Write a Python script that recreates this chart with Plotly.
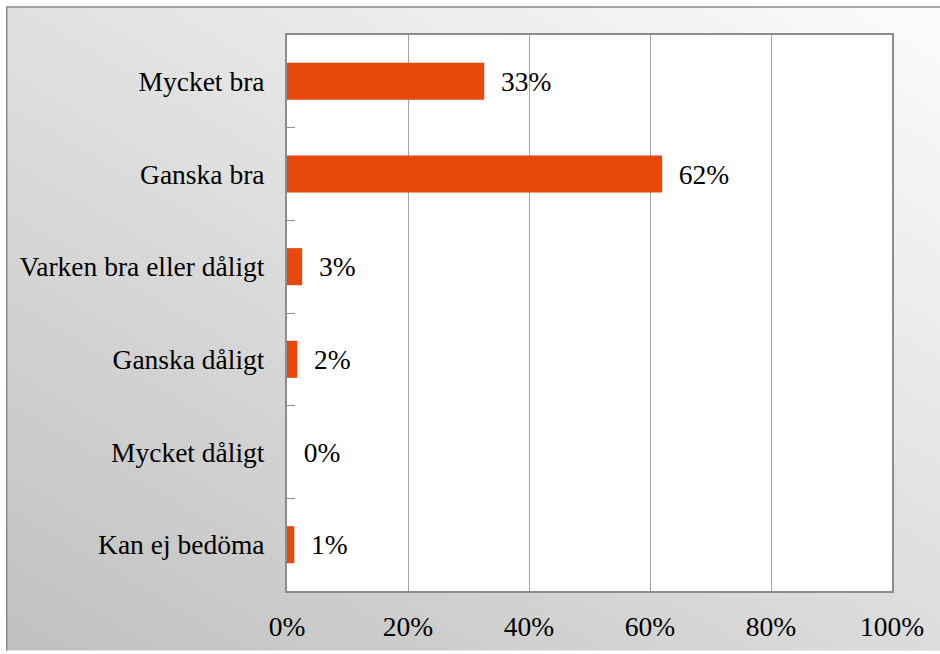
import base64
import plotly.graph_objects as go

# Data
categories = ["Mycket bra", "Ganska bra", "Varken bra eller dåligt",
              "Ganska dåligt", "Mycket dåligt", "Kan ej bedöma"]
values = [32.6, 62.0, 2.5, 1.7, 0.0, 1.2]
value_labels = ["33%", "62%", "3%", "2%", "0%", "1%"]
x_ticks = [0, 20, 40, 60, 80, 100]
x_tick_labels = ["0%", "20%", "40%", "60%", "80%", "100%"]

W, H = 940, 654
ML, MR, MT, MB = 287, 48, 35, 60
PW, PH = W - ML - MR, H - MT - MB

FONT = "Liberation Serif, Times New Roman, serif"
FS = 27.5

# gradient background (light top-right -> darker bottom-left) as an svg image
svg = (
    '<svg xmlns="http://www.w3.org/2000/svg" width="940" height="654" '
    'viewBox="0 0 940 654" preserveAspectRatio="none">'
    '<defs><linearGradient id="g" gradientUnits="userSpaceOnUse" '
    'x1="940" y1="6" x2="413" y2="897">'
    '<stop offset="0" stop-color="#fcfcfc"/>'
    '<stop offset="1" stop-color="#c0c0c0"/>'
    '</linearGradient></defs>'
    '<rect x="0" y="0" width="940" height="654" fill="#ffffff"/>'
    '<rect x="6" y="6" width="934" height="648" fill="url(#g)"/>'
    '<path d="M6.75 654 V6.75 H940" fill="none" stroke="#8a8a8a" stroke-width="1.5"/>'
    '</svg>'
)
bg_src = "data:image/svg+xml;base64," + base64.b64encode(svg.encode()).decode()

fig = go.Figure()

fig.add_trace(go.Bar(
    x=values,
    y=categories,
    orientation="h",
    marker=dict(color="#E8480C", line=dict(width=0)),
    text=value_labels,
    texttemplate="\u00a0\u00a0%{text}",
    textposition="outside",
    cliponaxis=False,
    textfont=dict(family=FONT, size=FS, color="#000000"),
    hoverinfo="skip",
))

fig.update_layout(
    width=W,
    height=H,
    margin=dict(l=ML, r=MR, t=MT, b=MB, pad=0),
    paper_bgcolor="#ffffff",
    plot_bgcolor="#ffffff",
    showlegend=False,
    bargap=0.6,
    font=dict(family=FONT, size=FS, color="#000000"),
    images=[dict(
        source=bg_src,
        xref="paper", yref="paper",
        x=-ML / PW, y=1 + MT / PH,
        sizex=W / PW, sizey=H / PH,
        xanchor="left", yanchor="top",
        sizing="stretch", layer="below",
    )],
    shapes=[dict(
        type="rect", xref="paper", yref="paper",
        x0=0, x1=1, y0=0, y1=1,
        fillcolor="#ffffff", line=dict(width=0), layer="below",
    )],
)

fig.update_xaxes(
    range=[0, 100],
    tickvals=x_ticks,
    ticktext=x_tick_labels,
    showgrid=True,
    gridcolor="#a3a3a3",
    gridwidth=1,
    zeroline=False,
    showline=True,
    mirror=True,
    linecolor="#8c8c8c",
    linewidth=2,
    ticks="",
    ticklabelstandoff=10,
    tickfont=dict(family=FONT, size=FS, color="#000000"),
)

fig.update_yaxes(
    autorange="reversed",
    showgrid=False,
    zeroline=False,
    showline=True,
    mirror=True,
    linecolor="#8c8c8c",
    linewidth=2,
    ticks="inside",
    tickson="boundaries",
    ticklen=8,
    tickcolor="#8c8c8c",
    tickwidth=1,
    ticklabelstandoff=15,
    tickfont=dict(family=FONT, size=FS, color="#000000"),
)

fig.write_html("out.html", config={"displayModeBar": False},
               post_script="document.body.style.margin='0';")
